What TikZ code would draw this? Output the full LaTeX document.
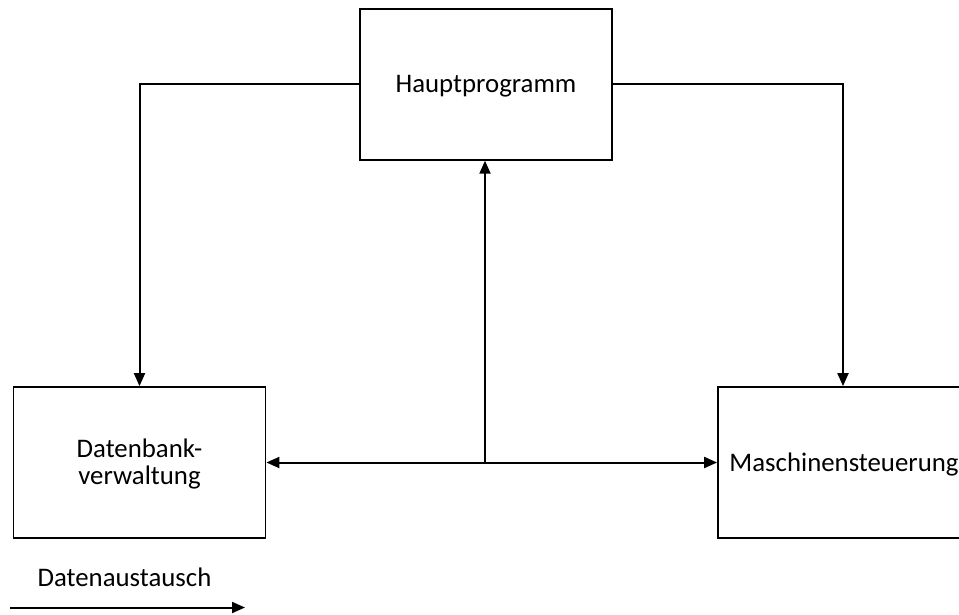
\documentclass[tikz,border=0pt]{standalone}
\usepackage{fontspec}
\setmainfont{Carlito}
\usetikzlibrary{arrows.meta}
\begin{document}
\begin{tikzpicture}[x=1pt,y=-1pt,
  txt/.style={font=\fontsize{26.8}{26.5}\selectfont},
  block/.style={txt,draw=black,line width=1.8pt,minimum width=252pt,minimum height=151pt,
    inner sep=0pt,align=center,text height=17.3pt,text depth=0pt},
  tip/.tip={Triangle[length=13pt,width=11pt]},
  flow/.style={line width=2pt,-tip},
  label/.style={txt,inner sep=0pt}]
\useasboundingbox (0,0) rectangle (959,614);
\begin{scope}
\clip (0,0) rectangle (959,614);
\node[block] (haupt) at (486,84.3) {Hauptprogramm};
\node[block,text height=43pt] (daten) at (139.5,462.5) {Datenbank-\\verwaltung};
\node[block] (masch) at (844,462.5) {Maschinensteuerung};
\end{scope}
\coordinate (junc) at (485,462.5);
\draw[flow] (haupt.west) -| (daten.north -| 139.5,0);
\draw[flow] (haupt.east) -| (masch.north -| 843,0);
\draw[flow] (junc) -- (junc |- haupt.south);
\draw[flow,tip-tip] (daten.east) -- (masch.west);
\node[label,anchor=base] (legtext) at (124.5,586.7) {Datenaustausch};
\coordinate (legstart) at (10,607.5);
\coordinate (legend) at (245,607.5);
\draw[flow] (legstart) -- (legend);
\end{tikzpicture}
\end{document}
